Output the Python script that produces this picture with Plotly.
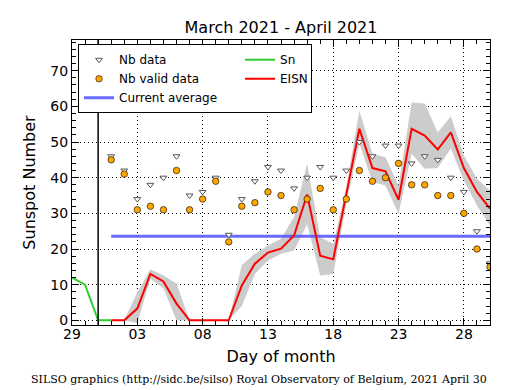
import plotly.graph_objects as go

# ---------------- data ----------------
sn_dates = ["2021-03-29", "2021-03-30", "2021-03-31", "2021-04-01"]
sn_values = [12, 10, 0, 0]

days = [f"2021-04-{d:02d}" for d in range(1, 31)]
eisn = [0, 0, 3.3, 13, 10.9, 4.7, 0, 0, 0, 0,
        9.8, 15.9, 19, 20.1, 23.8, 35.3, 18.1, 17.1, 35.4, 53.7,
        42.7, 41.8, 33.8, 53.7, 51.8, 47.9, 52.7, 42.7, 36, 31.3]
eisn_upper = [0, 0, 7.9, 14.3, 12.6, 10.3, 0, 0, 0, 0,
              15.5, 18.7, 21, 22.9, 29, 44, 23.3, 21.5, 37.4, 58.8,
              46.7, 45.7, 37.8, 61.1, 60.8, 52.7, 57.2, 46.2, 39.7, 36.4]
eisn_lower = [0, 0, -0.8, 11.7, 9, 0, 0, 0, 0, 0,
              4, 13, 16.8, 18.7, 19.6, 27, 12.6, 13, 32.7, 49.5,
              38.8, 37.8, 29.9, 46.7, 42.5, 42.7, 48.2, 39.2, 32.2, 26.6]
nb_data = [46, 42, 34, 38, 40, 46, 35, 36, 40, 24,
           34, 39, 43, 42, 37, 40, 43, 40, 42, 50,
           46, 49, 49, 44, 46, 45, 40, 36, 25, 16]
nb_valid = [45, 41, 31, 32, 31, 42, 31, 34, 39, 22,
            32, 33, 36, 35, 31, 34, 37, 31, 34, 42,
            39, 40, 44, 38, 38, 35, 35, 30, 20, 15]
current_average = 23.6
month_boundary = "2021-03-31"

x_range = ["2021-03-29", "2021-04-30"]
y_range = [-1.3, 78.6]

title_text = "March 2021 - April 2021"
footer_text = "SILSO graphics (http://sidc.be/silso) Royal Observatory of Belgium, 2021 April 30"

# page body has an 8px margin: figure is sized so that it fills the window
W, H = 507, 382

# ---------------- figure ----------------
fig = go.Figure()

fig.add_trace(go.Scatter(x=days, y=eisn_lower, mode="lines",
                         line=dict(width=0, color="rgba(0,0,0,0)"),
                         showlegend=False, hoverinfo="skip"))
fig.add_trace(go.Scatter(x=days, y=eisn_upper, mode="lines",
                         line=dict(width=0, color="rgba(0,0,0,0)"),
                         fill="tonexty", fillcolor="rgb(204,204,204)",
                         showlegend=False, hoverinfo="skip"))

fig.add_trace(go.Scatter(x=[days[0], days[-1]], y=[current_average, current_average],
                         mode="lines", name="Current average",
                         line=dict(color="rgba(90,90,255,0.9)", width=3),
                         legendrank=5))

fig.add_trace(go.Scatter(x=sn_dates, y=sn_values, mode="lines", name="Sn",
                         line=dict(color="#33cc33", width=2), legendrank=2,
                         legendwidth=26))

fig.add_trace(go.Scatter(x=days, y=eisn, mode="lines", name="EISN",
                         line=dict(color="red", width=2), legendrank=4,
                         legendwidth=26))

fig.add_trace(go.Scatter(x=days, y=nb_data, mode="markers", name="Nb data",
                         marker=dict(symbol="triangle-down", size=6, color="white",
                                     line=dict(color="#555555", width=1)),
                         legendrank=1))

fig.add_trace(go.Scatter(x=days, y=nb_valid, mode="markers", name="Nb valid data",
                         marker=dict(symbol="circle", size=6.5, color="#ffa500",
                                     line=dict(color="black", width=0.6)),
                         legendrank=3))

fig.add_shape(type="line", xref="x", yref="paper", x0=month_boundary, x1=month_boundary,
              y0=0, y1=1, line=dict(color="black", width=1.5))

fig.add_annotation(text=footer_text, xref="paper", yref="paper", x=0.447, y=-0.19,
                   xanchor="center", yanchor="middle", showarrow=False,
                   font=dict(family="DejaVu Serif", size=11, color="black"))

axis_common = dict(showline=True, linecolor="black", linewidth=1.2, mirror="ticks",
                   ticks="inside", tickcolor="black", showgrid=True, gridcolor="black",
                   griddash="1px,3px", gridwidth=1, zeroline=False,
                   tickfont=dict(size=14, color="black"))

fig.update_xaxes(type="date", range=x_range, tick0="2021-03-29", dtick=5 * 86400000,
                 tickformat="%d", ticklen=7, ticklabelstandoff=-4,
                 minor=dict(dtick=86400000, ticks="inside", ticklen=4, tickcolor="black",
                            showgrid=False),
                 title=dict(text="Day of month", font=dict(size=16, color="black"), standoff=9),
                 **axis_common)
fig.update_yaxes(range=y_range, tick0=0, dtick=10, ticklen=7,
                 minor=dict(dtick=2, ticks="inside", ticklen=4, tickcolor="black",
                            showgrid=False),
                 title=dict(text="Sunspot Number", font=dict(size=16, color="black"), standoff=10),
                 **axis_common)

fig.update_layout(
    width=W, height=H,
    margin=dict(l=64, r=25, t=32, b=65),
    paper_bgcolor="white", plot_bgcolor="white",
    font=dict(family="DejaVu Sans", color="black"),
    title=dict(text=title_text, x=0.5, xref="paper", y=1 - 19 / H, yref="container",
               xanchor="center", yanchor="middle", font=dict(size=16, color="black")),
    legend=dict(x=0.0144, y=0.985, xanchor="left", yanchor="top", orientation="h",
                traceorder="normal",
                entrywidth=116, bgcolor="white", bordercolor="black", borderwidth=1,
                font=dict(size=12, color="black"), tracegroupgap=0),
    showlegend=True,
)

fig.write_html("out.html")
